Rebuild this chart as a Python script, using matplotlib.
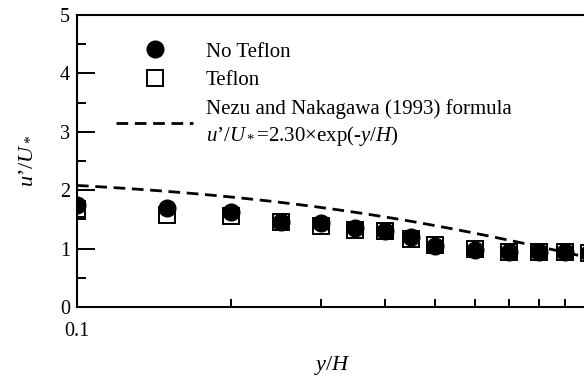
import numpy as np
import matplotlib
matplotlib.use("Agg")
import matplotlib.pyplot as plt
from matplotlib.ticker import FixedLocator, FixedFormatter, MultipleLocator, NullFormatter

plt.rcParams['font.family'] = ['Liberation Serif', 'DejaVu Serif']
plt.rcParams['mathtext.fontset'] = 'custom'
plt.rcParams['mathtext.rm'] = 'Liberation Serif'
plt.rcParams['mathtext.it'] = 'Liberation Serif:italic'

# measured turbulence intensity profiles
y_h = [0.1, 0.15, 0.2, 0.25, 0.3, 0.35, 0.4, 0.45, 0.5, 0.6, 0.7, 0.8, 0.9, 1.0]
no_teflon = [1.75, 1.69, 1.62, 1.46, 1.43, 1.36, 1.30, 1.20, 1.04, 0.98, 0.95, 0.94, 0.94, 0.92]
teflon = [1.68, 1.58, 1.56, 1.45, 1.38, 1.31, 1.30, 1.16, 1.07, 0.99, 0.95, 0.94, 0.94, 0.92]

# Nezu and Nakagawa (1993): u'/U* = D * exp(-y/H)
D_u = 2.30
x_fit = np.logspace(-1, 0, 100)
u_fit = D_u * np.exp(-x_fit)

fig = plt.figure(figsize=(5.84, 3.83), dpi=100)
ax = fig.add_axes([77 / 584, 76 / 383, 511.6 / 584, 292 / 383])

ax.plot(y_h, no_teflon, 'o', color='black', markersize=12, label='No Teflon', zorder=3)
ax.plot(y_h, teflon, 's', markerfacecolor='none', markeredgecolor='black',
        markeredgewidth=1.4, markersize=12, label='Teflon', zorder=4)
ax.plot(x_fit, u_fit, color='black', lw=2.0, dashes=(4.2, 2.4), zorder=2,
        label="Nezu and Nakagawa (1993) formula\n$u$’/$U_*$=2.30×exp(-$y/H$)")

ax.set_xscale('log')
ax.set_xlim(0.1, 1)
ax.set_ylim(0, 5)

ax.xaxis.set_major_locator(FixedLocator([0.1, 1]))
ax.xaxis.set_major_formatter(FixedFormatter(['0.1', '']))
ax.xaxis.set_minor_locator(FixedLocator([0.2, 0.3, 0.4, 0.5, 0.6, 0.7, 0.8, 0.9]))
ax.xaxis.set_minor_formatter(NullFormatter())
ax.yaxis.set_major_locator(MultipleLocator(1))
ax.yaxis.set_minor_locator(MultipleLocator(0.5))

ax.tick_params(axis='both', which='both', direction='in', width=1.4, labelsize=14.5)
ax.tick_params(axis='y', which='major', length=13, pad=5)
ax.tick_params(axis='y', which='minor', length=6.5)
ax.tick_params(axis='x', which='major', length=13, pad=11)
ax.tick_params(axis='x', which='minor', length=6)

for side in ['left', 'bottom', 'top', 'right']:
    ax.spines[side].set_linewidth(1.5)

ax.set_xlabel('$y/H$', fontsize=16, labelpad=9)
ax.set_ylabel("$u$’/$U_*$", fontsize=16, labelpad=18)

leg = ax.legend(loc='upper left', bbox_to_anchor=(116 / 584, 1 - 42 / 383),
                bbox_transform=fig.transFigure, frameon=False, fontsize=15,
                handlelength=3.7, handletextpad=0.6, labelspacing=0.42,
                borderpad=0, borderaxespad=0)
for t in leg.get_texts():
    t.set_linespacing(1.3)

fig.savefig('out.png', dpi=100)
